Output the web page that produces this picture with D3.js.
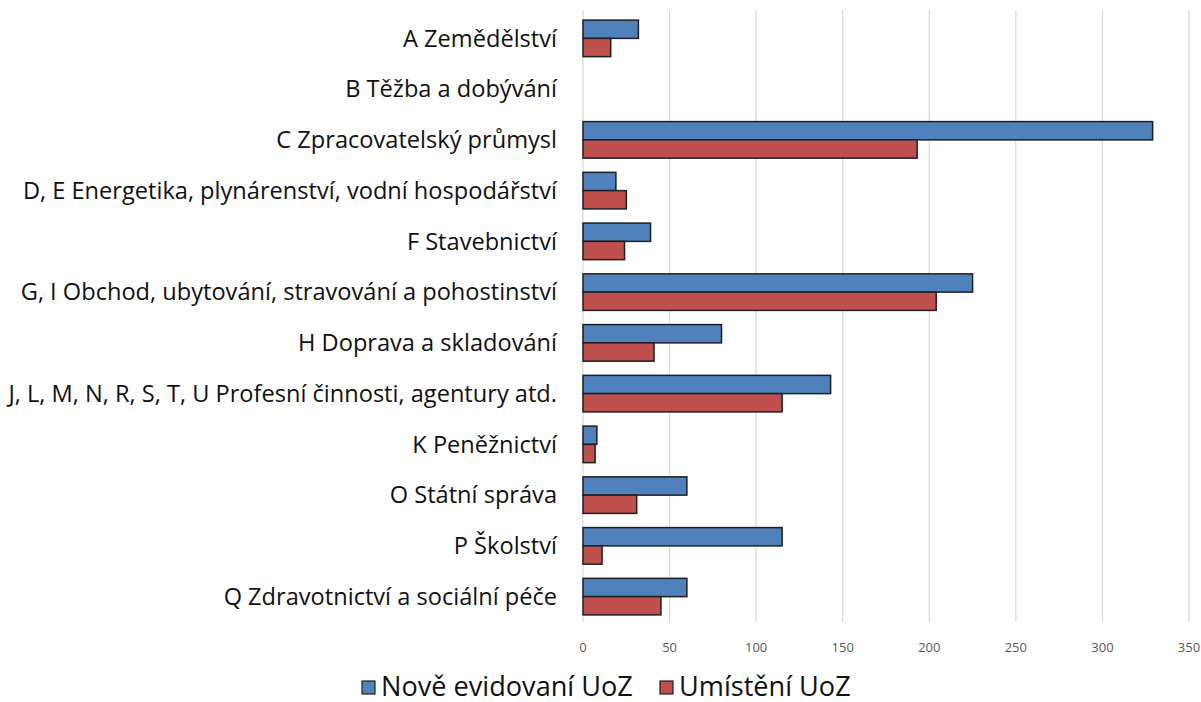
<!DOCTYPE html>
<html>
<head>
<meta charset="utf-8">
<script src="https://cdn.jsdelivr.net/npm/d3@7"></script>
<style>
  body { margin: 0; background: #fff; }
  svg text { font-family: "Open Sans", Lato, sans-serif; }
</style>
</head>
<body>
<svg id="chart" width="1201" height="702"></svg>
<script>
const categories = [
  "A Zemědělství",
  "B Těžba a dobývání",
  "C Zpracovatelský průmysl",
  "D, E Energetika, plynárenství, vodní hospodářství",
  "F Stavebnictví",
  "G, I Obchod, ubytování, stravování a pohostinství",
  "H Doprava a skladování",
  "J, L, M, N, R, S, T, U Profesní činnosti, agentury atd.",
  "K Peněžnictví",
  "O Státní správa",
  "P Školství",
  "Q Zdravotnictví a sociální péče"
]
const noveEvidovani = [32, 0, 329, 19, 39, 225, 80, 143, 8, 60, 115, 60]
const umisteni = [16, 0, 193, 25, 24, 204, 41, 115, 7, 31, 11, 45]
const seriesNames = ["Nově evidovaní UoZ", "Umístění UoZ"]
const xTicks = [0, 50, 100, 150, 200, 250, 300, 350]

const colors = ["#4f81bd", "#c0504d"]
const svg = d3.select("#chart")
const margin = { left: 583, right: 12, top: 13, bottom: 80 }
const W = 1201, H = 702

let x = d3.scaleLinear().domain([0, 350]).range([margin.left, W - margin.right])
let y = d3.scaleBand().domain(categories).range([margin.top, H - margin.bottom])
    .paddingInner(0.28).paddingOuter(0.14)
let ySub = d3.scaleBand().domain([0, 1]).range([0, y.bandwidth()])

// gridlines
svg.append("g")
    .selectAll("line")
    .data(xTicks)
    .join("line")
    .attr("x1", d => x(d)).attr("x2", d => x(d))
    .attr("y1", margin.top - 3).attr("y2", H - margin.bottom)
    .attr("stroke", "#d9d9d9")
    .attr("stroke-width", 1.2)

// tick labels
svg.append("g")
    .selectAll("text")
    .data(xTicks)
    .join("text")
    .attr("x", d => x(d))
    .attr("y", H - margin.bottom + 30)
    .attr("text-anchor", "middle")
    .attr("font-size", 13)
    .attr("fill", "#595959")
    .text(d => d)

// bars
const rows = categories.map((c, i) => ({ cat: c, vals: [noveEvidovani[i], umisteni[i]] }))
let groups = svg.append("g")
    .selectAll("g")
    .data(rows)
    .join("g")
    .attr("transform", d => `translate(0,${y(d.cat)})`)

groups.selectAll("rect")
    .data(d => d.vals.map((v, s) => ({ v, s })).filter(d => d.v > 0))
    .join("rect")
    .attr("x", x(0))
    .attr("y", d => ySub(d.s))
    .attr("width", d => x(d.v) - x(0))
    .attr("height", ySub.bandwidth())
    .attr("fill", d => colors[d.s])
    .attr("stroke", "#1f1f1f")
    .attr("stroke-width", 1.5)

// category labels
let labels = svg.append("g")
    .selectAll("text")
    .data(categories)
    .join("text")
    .attr("x", 557)
    .attr("y", d => y(d) + y.bandwidth() / 2)
    .attr("dy", "0.35em")
    .attr("text-anchor", "end")
    .attr("font-size", 20)
    .attr("fill", "#111")
    .text(d => d)

// fit the label size so the longest one spans like the reference (~549px)
let longest = d3.max(labels.nodes(), n => n.getComputedTextLength())
labels.attr("font-size", 20 * 549 / longest)

// legend
let legend = svg.append("g").attr("transform", "translate(0,686)")
const legendX = [362, 660]
let legendText = legend.selectAll("text")
    .data(seriesNames)
    .join("text")
    .attr("x", (d, i) => legendX[i] + 19)
    .attr("y", 0)
    .attr("dy", "0.35em")
    .attr("font-size", 22)
    .attr("fill", "#111")
    .text(d => d)
let ls = 252 / legendText.node().getComputedTextLength()
legendText.attr("font-size", 22 * ls)

legend.selectAll("rect")
    .data(seriesNames)
    .join("rect")
    .attr("x", (d, i) => legendX[i]).attr("y", -5)
    .attr("width", 13).attr("height", 13)
    .attr("fill", (d, i) => colors[i])
    .attr("stroke", "#1f1f1f")
    .attr("stroke-width", 1.2)
</script>
</body>
</html>
